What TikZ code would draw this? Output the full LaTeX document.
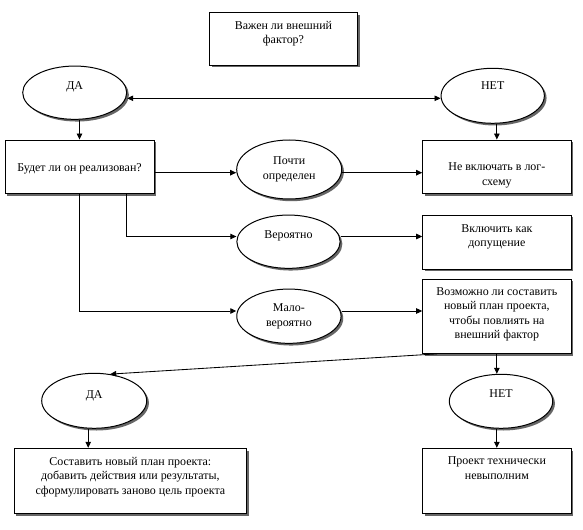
\documentclass[tikz,border=0pt]{standalone}
\usepackage{fontspec}
\setmainfont{Liberation Serif}
\usetikzlibrary{shapes.geometric,shadows,arrows.meta,calc}
\newcommand{\bxt}[4]{\parbox[c][#2bp][t]{#1bp}{\centering\vspace*{#3bp}\strut #4\par}}
\newcommand{\elt}[2]{\raisebox{#1bp}[0pt][0pt]{#2}}
\tikzset{
  shd/.style={drop shadow={shadow xshift=2.2bp, shadow yshift=-2.2bp, fill=black!60, opacity=1}},
  box/.style={draw, fill=white, line width=1pt, inner sep=0pt, shd},
  oval/.style={ellipse, draw, fill=white, line width=1pt, inner sep=0pt, align=center, shd},
  arr/.style={line width=0.85pt, -{Triangle[length=6bp,width=5.5bp]}},
  barr/.style={line width=0.85pt, {Triangle[length=6bp,width=5.5bp]}-{Triangle[length=6bp,width=5.5bp]}}
}
\begin{document}
\begin{tikzpicture}[x=1bp,y=-1bp,font=\fontsize{12}{14.5}\selectfont]
\fill[white] (0,0) rectangle (583,530);
\useasboundingbox (0,0) rectangle (583,530);
% boxes
\node[box] (top) at (283.5,38.9) {\bxt{148.4}{52.3}{6.2}{Важен ли внешний\\фактор?}};
\node[box] (bud) at (79.5,166.7) {\bxt{149}{53.3}{21}{Будет ли он реализован?}};
\node[box] (nevkl) at (496.85,166.7) {\bxt{148.3}{53.3}{20.5}{Не включать в лог-\\[0.5bp]схему}};
\node[box] (vkl) at (496.85,242) {\bxt{148.3}{54}{7.2}{Включить как\\допущение}};
\node[box] (vozm) at (496.85,316.2) {\bxt{148.3}{74.3}{6.2}{Возможно ли составить\\новый план проекта,\\чтобы повлиять на\\внешний фактор}};
\node[box] (sost) at (130.35,480.8) {\bxt{232.7}{65}{6.9}{Составить новый план проекта:\\добавить действия или результаты,\\сформулировать заново цель проекта}};
\node[box] (proekt) at (496.85,480.8) {\bxt{148.3}{65}{6.3}{Проект технически\\невыполним}};
% ellipses
\node[oval, minimum width=104bp, minimum height=53.3bp] (da1) at (74.7,92.7) {\elt{2.7}{ДА}};
\node[oval, minimum width=103.3bp, minimum height=55bp] (net1) at (492.7,95.8) {\elt{6.5}{НЕТ}};
\node[oval, minimum width=105bp, minimum height=59bp] (pochti) at (289.2,169.5) {Почти\\определен};
\node[oval, minimum width=103.3bp, minimum height=53.3bp] (ver) at (288.5,241.7) {\elt{3.7}{Вероятно}};
\node[oval, minimum width=104.3bp, minimum height=54.3bp] (malo) at (288.9,316.2) {Мало-\\вероятно};
\node[oval, minimum width=105bp, minimum height=55bp] (da2) at (94.2,400.8) {\elt{2}{ДА}};
\node[oval, minimum width=103.4bp, minimum height=54bp] (net2) at (501,401.3) {\elt{4}{НЕТ}};
% rows
\coordinate (r1) at (0,172.7);
\coordinate (r2) at (0,236.5);
\coordinate (r3) at (0,311);
\coordinate (bs) at ($(bud.south west)!0.814!(bud.south east)$);
\coordinate (vs) at ($(vozm.south west)!0.10!(vozm.south east)$);
\coordinate (d2) at ([xshift=-6bp]da2.south);
% connectors
\draw[barr] (da1.east |- 0,98.3) -- (net1.west |- 0,98.3);
\draw[arr] (bud.north |- da1.south) -- (bud.north);
\draw[arr] (nevkl.north |- net1.south) -- (nevkl.north);
\draw[arr] (bud.east |- r1) -- (pochti.west |- r1);
\draw[arr] (pochti.east |- r1) -- (nevkl.west |- r1);
\draw[arr] (bs) |- (ver.west |- r2);
\draw[arr] (ver.east |- r2) -- (vkl.west |- r2);
\draw[arr] (bud.south) |- (malo.west |- r3);
\draw[arr] (malo.east |- r3) -- (vozm.west |- r3);
\draw[arr] (vozm.south) -- (vozm.south |- net2.north);
\draw[arr] (vs) -- (da2.59);
\draw[arr] (d2) -- (d2 |- sost.north);
\draw[arr] (proekt.north |- net2.south) -- (proekt.north);
\end{tikzpicture}
\end{document}
